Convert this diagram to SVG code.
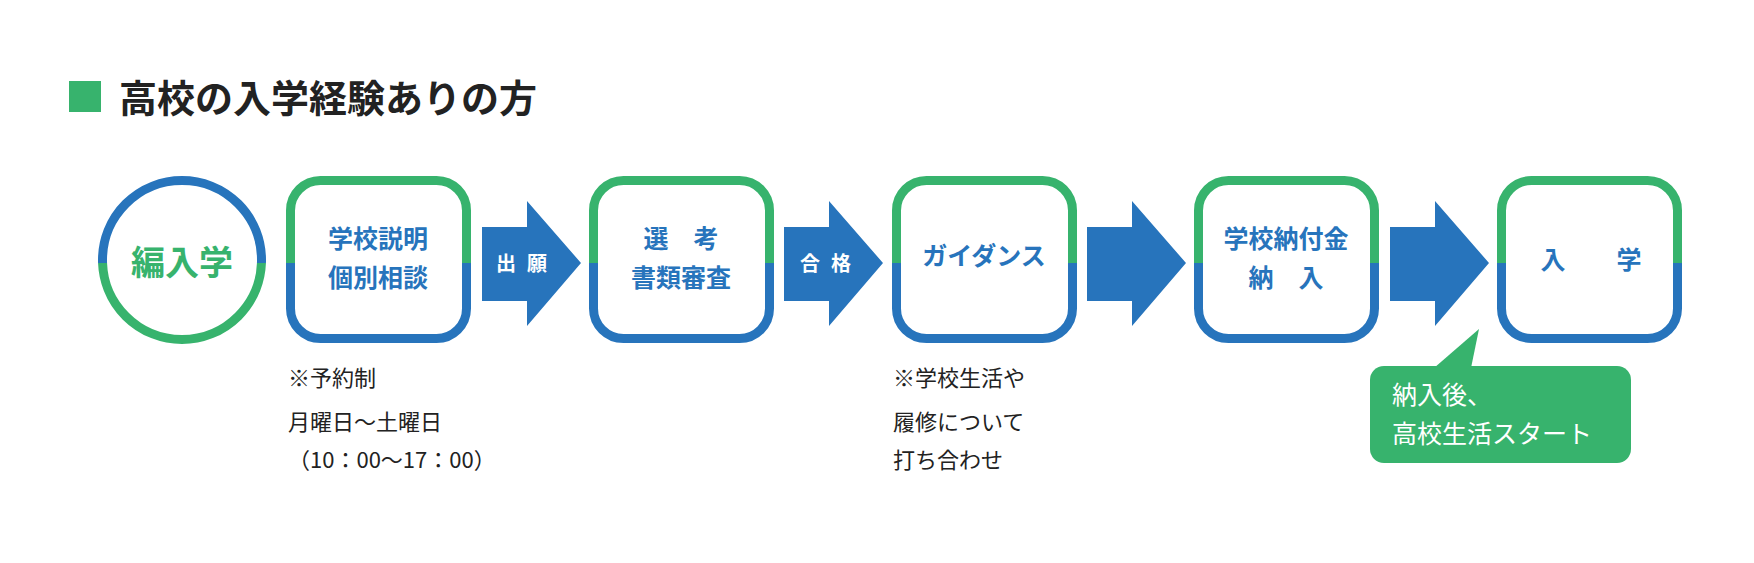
<svg xmlns="http://www.w3.org/2000/svg" width="1754" height="563" viewBox="0 0 1754 563">
<style>
text{font-family:"Noto Sans CJK JP","Noto Sans",sans-serif;}
.bt{fill:#2774BC;font-weight:bold;font-size:25px;text-anchor:middle;}
.at{fill:#fff;font-weight:bold;font-size:20px;text-anchor:middle;}
.nt{fill:#222;font-size:22px;}
.g{fill:none;stroke:#37B36D;stroke-width:9;}
.b{fill:none;stroke:#2774BC;stroke-width:9;}
.arr{fill:#2774BC;}
</style>
<defs>
<clipPath id="top"><rect x="0" y="0" width="1754" height="263"/></clipPath>
<clipPath id="bot"><rect x="0" y="263" width="1754" height="300"/></clipPath>
<rect id="box" x="290.5" y="180.5" width="176" height="158" rx="30"/>
</defs>
<rect width="1754" height="563" fill="#fff"/>
<g id="title">
<rect x="69" y="81" width="32" height="31" fill="#37B36D"/>
<text x="119" y="112" font-size="38" font-weight="bold" fill="#222">高校の入学経験ありの方</text>
</g>
<g id="n0">
<circle cx="182" cy="260" r="79.5" class="b" clip-path="url(#top)"/>
<circle cx="182" cy="260" r="79.5" class="g" clip-path="url(#bot)"/>
<text x="182" y="275" font-size="34" font-weight="bold" fill="#37B36D" text-anchor="middle">編入学</text>
</g>
<g id="n1">
<use href="#box" class="g" clip-path="url(#top)"/><use href="#box" class="b" clip-path="url(#bot)"/>
<text class="bt" x="378" y="248">学校説明</text><text class="bt" x="378" y="287">個別相談</text>
</g>
<g id="n2" transform="translate(303,0)">
<use href="#box" class="g" clip-path="url(#top)"/><use href="#box" class="b" clip-path="url(#bot)"/>
<text class="bt" x="378" y="248" xml:space="preserve">選　考</text><text class="bt" x="378" y="287">書類審査</text>
</g>
<g id="n3" transform="translate(606,0)">
<use href="#box" class="g" clip-path="url(#top)"/><use href="#box" class="b" clip-path="url(#bot)"/>
<text class="bt" x="378" y="265">ガイダンス</text>
</g>
<g id="n4" transform="translate(908,0)">
<use href="#box" class="g" clip-path="url(#top)"/><use href="#box" class="b" clip-path="url(#bot)"/>
<text class="bt" x="378" y="248">学校納付金</text><text class="bt" x="378" y="287" xml:space="preserve">納　入</text>
</g>
<g id="n5" transform="translate(1211,0)">
<use href="#box" class="g" clip-path="url(#top)"/><use href="#box" class="b" clip-path="url(#bot)"/>
<text class="bt" x="342" y="269" font-size="36">入</text>
<text class="bt" x="418" y="269" font-size="36">学</text>
</g>
<g id="connectors">
<polygon class="arr" points="482,227 527,227 527,201 581,263 527,326 527,301 482,301"/>
<polygon class="arr" points="784,227 829,227 829,201 883,263 829,326 829,301 784,301"/>
<polygon class="arr" points="1087,227 1132,227 1132,201 1186,263 1132,326 1132,301 1087,301"/>
<polygon class="arr" points="1390,227 1435,227 1435,201 1489,263 1435,326 1435,301 1390,301"/>
<text class="at" x="506" y="271">出</text><text class="at" x="537" y="271">願</text>
<text class="at" x="810" y="271">合</text><text class="at" x="841" y="271">格</text>
</g>
<g id="note1">
<text class="nt" x="288" y="386">※予約制</text>
<text class="nt" x="288" y="430">月曜日～土曜日</text>
<text class="nt" x="288" y="468">（10：00～17：00）</text>
</g>
<g id="note2">
<text class="nt" x="893" y="386">※学校生活や</text>
<text class="nt" x="893" y="430">履修について</text>
<text class="nt" x="893" y="468">打ち合わせ</text>
</g>
<g id="callout">
<rect x="1370" y="366" width="261" height="97" rx="14" fill="#37B36D"/>
<polygon points="1434,368 1479,329 1471,368" fill="#37B36D"/>
<text x="1392" y="404" font-size="25" fill="#fff">納入後、</text>
<text x="1392" y="443" font-size="25" fill="#fff">高校生活スタート</text>
</g>
</svg>
